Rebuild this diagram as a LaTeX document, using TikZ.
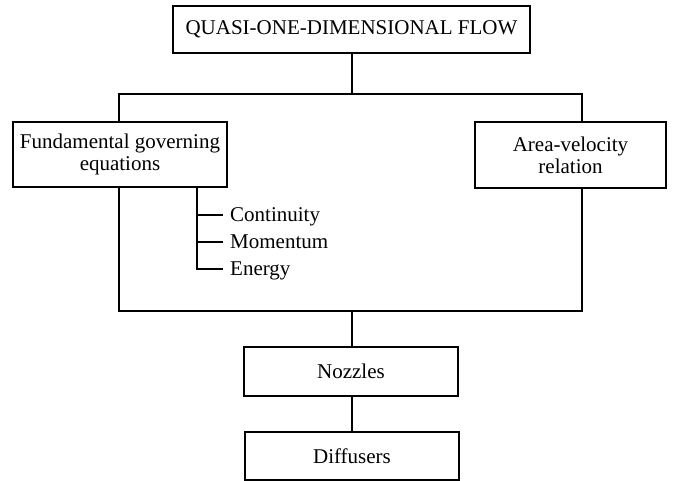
\documentclass[tikz,border=0pt]{standalone}
\usepackage{fontspec}
\setmainfont{Liberation Serif}
\tikzset{
  box/.style={draw, line width=1.5pt, fill=white, inner sep=0pt, align=center,
    font=\fontsize{21}{22}\selectfont},
  conn/.style={line width=1.8pt},
  item/.style={anchor=base west, inner sep=0pt, font=\fontsize{21}{22}\selectfont},
}
\begin{document}
\begin{tikzpicture}[x=1pt,y=-1pt]
\useasboundingbox[fill=white] (0,0) rectangle (678,481);
% frame joining the two middle boxes
\coordinate (tl) at (119,94);
\coordinate (tr) at (582,94);
\coordinate (bl) at (119,311);
\coordinate (br) at (582,311);
\coordinate (jt) at (352,94);
\coordinate (jb) at (352,311);
\draw[conn] (tl) -- (tr) -- (br) -- (bl) -- cycle;
% boxes
\node[box, minimum width=357pt, minimum height=47pt] (top) at (351.5,29.5) {QUASI-ONE-DIMENSIONAL FLOW};
\node[box, minimum width=214pt, minimum height=65pt] (fge) at (120,154.5) {Fundamental governing\\equations};
\node[box, minimum width=191pt, minimum height=66pt] (avr) at (570.5,155) {Area-velocity\\relation};
\node[box, minimum width=214pt, minimum height=49pt] (noz) at (351,371.5) {Nozzles};
\node[box, minimum width=214pt, minimum height=48pt] (dif) at (352,456) {Diffusers};
% connectors
\draw[conn] (top.south -| jt) -- (jt);
\draw[conn] (jb) -- (noz.north -| jb);
\draw[conn] (noz.south -| jb) -- (dif.north -| jb);
% sub-items
\coordinate (tx) at (197,0);
\coordinate (c1) at (223,215);
\coordinate (c2) at (223,242);
\coordinate (c3) at (223,269);
\node[item] (cont) at (230,222) {Continuity};
\node[item] (mom) at (230,249) {Momentum};
\node[item] (ener) at (230,276) {Energy};
\draw[conn] (fge.south -| tx) -- (tx |- c3) -- (c3);
\draw[conn] (tx |- c1) -- (c1);
\draw[conn] (tx |- c2) -- (c2);
\end{tikzpicture}
\end{document}
